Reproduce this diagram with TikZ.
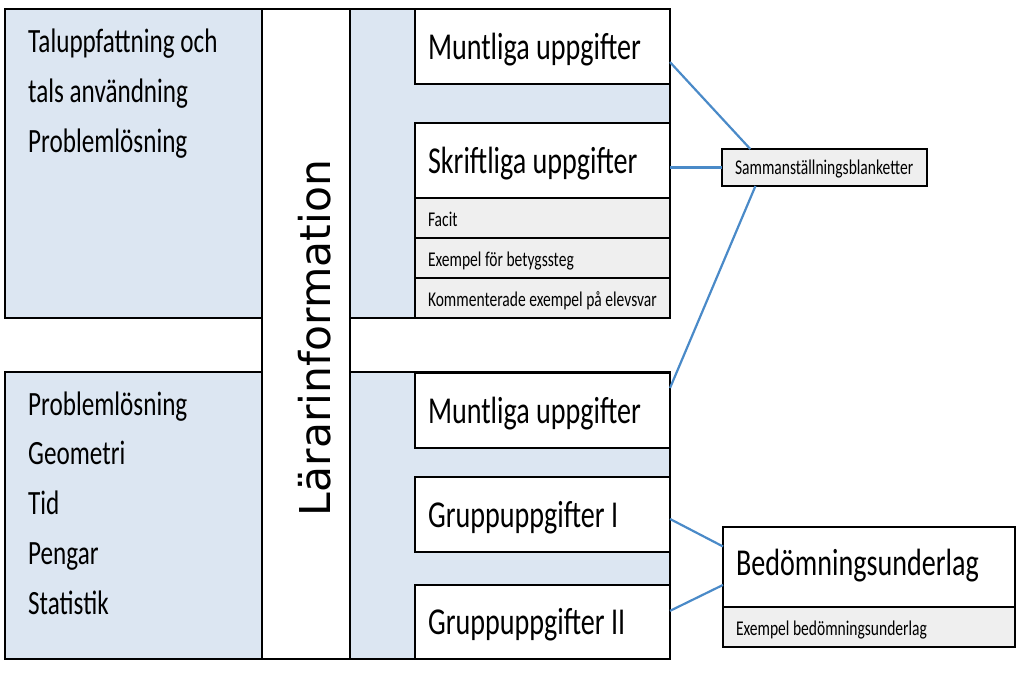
\documentclass[tikz,border=0pt]{standalone}
\usepackage{fontspec}
\setmainfont{Carlito}[FakeStretch=0.74]
\newfontfamily\larfont{DejaVu Sans}
\definecolor{ljusbla}{HTML}{DCE6F2}
\definecolor{ljusgra}{HTML}{EFEFEF}
\definecolor{linjebla}{HTML}{4A8AC8}
\tikzset{
  ram/.style={draw=black,line width=2pt,inner ysep=0pt,inner xsep=13pt,outer sep=0pt,anchor=north west},
  panel/.style={ram,fill=ljusbla},
  rubrik/.style={ram,fill=white,align=flush left,font=\fontsize{38}{40}\selectfont,
    minimum height=75pt,text height=30pt,text depth=5pt},
  rad/.style={ram,fill=ljusgra,align=flush left,font=\fontsize{21}{22}\selectfont,
    minimum height=40pt,text height=19pt,text depth=2pt},
  omrade/.style={anchor=base west,inner sep=0pt,align=flush left,text width=220pt,
    font=\fontsize{34}{49.8}\selectfont},
  koppling/.style={draw=linjebla,line width=2.2pt}
}
\begin{document}
\begin{tikzpicture}[x=1pt,y=-1pt]
  \useasboundingbox (0,0) rectangle (1024,672);
  \node[panel,minimum width=665pt,minimum height=309pt] (ovre) at (5,9) {}; %övre block
  \node[panel,minimum width=665pt,minimum height=287pt] (undre) at (5,372) {}; %undre block
  \node[ram,fill=white,minimum width=88pt,minimum height=650pt] (kolumn) at (262,9) {};
  \node[rotate=90,anchor=base,inner sep=0pt,font=\larfont\fontsize{42.5}{44}\selectfont] (lararinfo) at (330,338) {Lärarinformation};
  \node[omrade] (omradeA) at (28,52.5) {Taluppfattning och\\tals användning\\Problemlösning};
  \node[omrade] (omradeB) at (28,415) {Problemlösning\\Geometri\\Tid\\Pengar\\Statistik};
  % uppgifter, övre block
  \node[rubrik,text width=229pt] (muntligaA) at (415,9) {Muntliga uppgifter};
  \node[rubrik,text width=229pt] (skriftliga) at (415,123) {Skriftliga uppgifter};
  \node[rad,text width=229pt] (facit) at (415,198) {Facit};
  \node[rad,text width=229pt] (betygssteg) at (415,238) {Exempel för betygssteg};
  \node[rad,text width=229pt] (elevsvar) at (415,278) {\mbox{Kommenterade exempel på elevsvar}};
  % uppgifter, undre block
  \node[rubrik,text width=229pt] (muntligaB) at (415,373) {Muntliga uppgifter};
  \node[rubrik,text width=229pt] (gruppA) at (415,477) {Gruppuppgifter I};
  \node[rubrik,text width=229pt,minimum height=74pt] (gruppB) at (415,585) {Gruppuppgifter II};
  % till höger
  \node[rad,text width=179pt,minimum height=37pt,text height=17pt,text depth=4pt] (samman) at (722,149) {Sammanställningsblanketter};
  \node[rubrik,text width=266pt,minimum height=80pt,text height=26pt,text depth=9pt] (bedom) at (723,527) {Bedömningsunderlag};
  \node[rad,text width=266pt] (bedomex) at (723,607) {Exempel bedömningsunderlag};
  \draw[koppling] (muntligaA.-7) -- (samman.166);
  \draw[koppling] (samman.west) -- (samman.west -| skriftliga.east);
  \draw[koppling] (muntligaB.10) -- (samman.195);
  \draw[koppling] (gruppA.-2) -- (bedom.172);
  \draw[koppling] (gruppB.5) -- (bedom.187);
\end{tikzpicture}
\end{document}
